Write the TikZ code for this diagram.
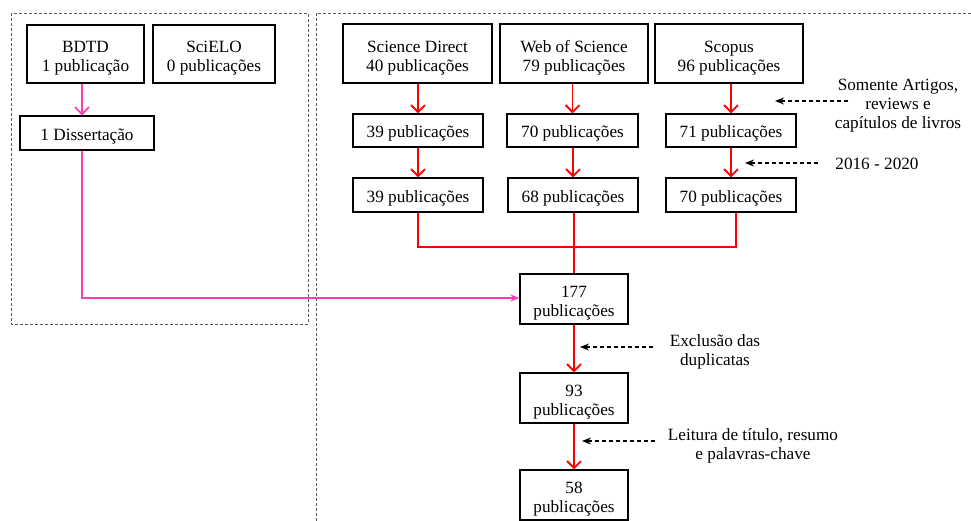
\documentclass[tikz,border=0pt]{standalone}
\usepackage{fontspec}
\setmainfont{Liberation Serif}
\newfontfamily\tnr{Liberation Serif}
\usetikzlibrary{arrows.meta}
\definecolor{pinkline}{RGB}{255,60,180}
\definecolor{redline}{RGB}{255,0,0}
\newcommand{\topstrut}{\rule{0pt}{20pt}}
\begin{document}
\begin{tikzpicture}[x=1pt,y=-1pt,
  every node/.style={font=\tnr\fontsize{17.2}{19}\selectfont, inner sep=0pt},
  box/.style={draw=black, line width=1.4pt, align=center},
  frame/.style={draw=black!65, line width=0.8pt, dash pattern=on 3pt off 2pt},
  redarrow/.style={draw=redline, line width=1.8pt, -{Straight Barb[length=7pt,width=14pt,line width=1.8pt]}},
  redline/.style={draw=redline, line width=1.8pt},
  pinkarrow/.style={draw=pinkline, line width=1.8pt, -{Straight Barb[length=7pt,width=14pt,line width=1.8pt]}},
  pinkarrow2/.style={draw=pinkline, line width=1.4pt, -{Stealth[length=9pt,width=7pt]}},
  notearrow/.style={draw=black, line width=1.3pt, dash pattern=on 4.5pt off 2.5pt, -{Stealth[length=9pt,width=7pt]}},
  note/.style={align=center}
]
\useasboundingbox (0,0) rectangle (971,521);
% frames
\draw[frame] (11,13) rectangle (308,324);
\draw[frame] (316,521) -- (316,13) -- (971,13);
% left group
\node[box, minimum width=117pt, minimum height=58pt] (bdtd) at (85.5,54) {\topstrut BDTD\\1 publicação};
\node[box, minimum width=122pt, minimum height=58pt] (scielo) at (214,54) {\topstrut SciELO\\0 publicações};
\node[box, minimum width=134pt, minimum height=34pt] (diss) at (87,133) {\rule{0pt}{18.5pt}1 Dissertação};
% right group
\node[box, minimum width=149pt, minimum height=59pt] (sd) at (417.5,53.5) {\topstrut Science Direct\\40 publicações};
\node[box, minimum width=148pt, minimum height=59pt] (wos) at (574,53.5) {\topstrut Web of Science\\79 publicações};
\node[box, minimum width=148pt, minimum height=59pt] (sc) at (729,53.5) {\topstrut Scopus\\96 publicações};
\node[box, minimum width=130pt, minimum height=33pt] (sd2) at (418,130.5) {\rule{0pt}{18.5pt}39 publicações};
\node[box, minimum width=131pt, minimum height=33pt] (wos2) at (572.5,130.5) {\rule{0pt}{18.5pt}70 publicações};
\node[box, minimum width=130pt, minimum height=33pt] (sc2) at (731,130.5) {\rule{0pt}{18.5pt}71 publicações};
\node[box, minimum width=130pt, minimum height=34pt] (sd3) at (418,195) {\rule{0pt}{18.5pt}39 publicações};
\node[box, minimum width=130pt, minimum height=34pt] (wos3) at (573,195) {\rule{0pt}{18.5pt}68 publicações};
\node[box, minimum width=130pt, minimum height=34pt] (sc3) at (731,195) {\rule{0pt}{18.5pt}70 publicações};
\node[box, minimum width=108pt, minimum height=50pt] (n177) at (574,299) {\topstrut 177\\publicações};
\node[box, minimum width=108pt, minimum height=50pt] (n93) at (574,398) {\topstrut 93\\publicações};
\node[box, minimum width=108pt, minimum height=50pt] (n58) at (574,495) {\topstrut 58\\publicações};
% red connectors
\draw[redarrow] (sd.south -| sd2.north) -- (sd2.north);
\draw[redarrow] (wos.south -| wos2.north) -- (wos2.north);
\draw[redarrow] (sc.south -| sc2.north) -- (sc2.north);
\draw[redarrow] (sd2.south -| sd3.north) -- (sd3.north);
\draw[redarrow] (wos2.south -| wos3.north) -- (wos3.north);
\draw[redarrow] (sc2.south -| sc3.north) -- (sc3.north);
\coordinate (mergeL) at (418,247);
\coordinate (mergeR) at (736,247);
\draw[redline] (sd3.south) -- (mergeL) -- (mergeR) -- (mergeR |- sc3.south);
\draw[redline] (wos3.south -| n177.north) -- (n177.north);
\draw[redarrow] (n177.south) -- (n93.north);
\draw[redarrow] (n93.south) -- (n58.north);
% pink connectors
\draw[pinkarrow] (bdtd.south -| 82,0) -- (diss.north -| 82,0);
\coordinate (pk) at (82,298);
\draw[pinkarrow2] (diss.south -| pk) -- (pk) -- (pk -| n177.west);
% notes
\node[note] (t1) at (898,106) {Somente Artigos,\\reviews e\\capítulos de livros};
\node[note] (t2) at (877,164) {2016 - 2020};
\node[note] (t3) at (715,352) {Exclusão das\\duplicatas};
\node[note] (t4) at (753,446) {Leitura de título, resumo\\e palavras-chave};
\coordinate (a1s) at (848,101); \coordinate (a1e) at (775,101);
\coordinate (a2s) at (818,163); \coordinate (a2e) at (745,163);
\coordinate (a3s) at (653,347); \coordinate (a3e) at (580,347);
\coordinate (a4s) at (655,441); \coordinate (a4e) at (582,441);
\draw[notearrow] (a1s) -- (a1e);
\draw[notearrow] (a2s) -- (a2e);
\draw[notearrow] (a3s) -- (a3e);
\draw[notearrow] (a4s) -- (a4e);
\end{tikzpicture}
\end{document}
